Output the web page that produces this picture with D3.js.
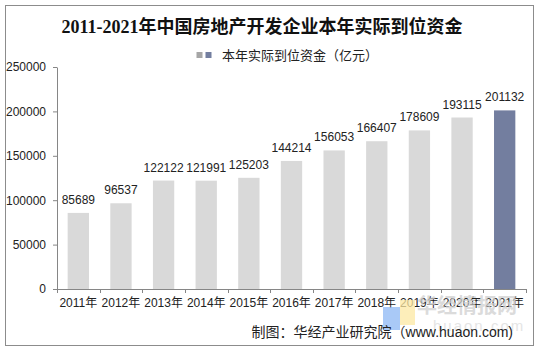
<!DOCTYPE html>
<html>
<head>
<meta charset="utf-8">
<script src="https://cdn.jsdelivr.net/npm/d3@7"></script>
<style>
  body { margin: 0; background: #fff; }
  svg { display: block; }
</style>
</head>
<body>
<svg id="chart" width="539" height="352"></svg>
<script>
// Data
const years = ["2011年", "2012年", "2013年", "2014年", "2015年", "2016年", "2017年", "2018年", "2019年", "2020年", "2021年"];
const funds = [85689, 96537, 122122, 121991, 125203, 144214, 156053, 166407, 178609, 193115, 201132];
const yTicks = [0, 50000, 100000, 150000, 200000, 250000];

const titleText = "2011-2021年中国房地产开发企业本年实际到位资金";
const legendText = "本年实际到位资金（亿元）";
const sourceText = "制图：华经产业研究院（www.huaon.com)";

// Layout
const width = 539, height = 352;
const plot = {left: 57, right: 526, top: 67, bottom: 289};
const greyBar = "#d9d9d9", blueBar = "#737e9f";
const sans = "'Liberation Sans', Arial, 'Noto Sans CJK SC', sans-serif";

const svg = d3.select("#chart");

// outer frame
svg.append("rect")
    .attr("x", 5.5).attr("y", 5.5)
    .attr("width", 528).attr("height", 340)
    .attr("fill", "#fff")
    .attr("stroke", "#8c8c8c");

// Scales
const x = d3.scaleBand().domain(years).range([plot.left, plot.right]).paddingInner(0.5).paddingOuter(0.25);
const y = d3.scaleLinear().domain([0, 250000]).range([plot.bottom, plot.top]);

// Title
svg.append("text")
    .attr("x", 262).attr("y", 33)
    .attr("text-anchor", "middle")
    .style("font-family", "'Liberation Serif', 'Noto Sans CJK SC', serif")
    .style("font-weight", "bold")
    .style("font-size", "18px")
    .attr("fill", "#111")
    .text(titleText);

// Legend
svg.append("rect").attr("x", 196.5).attr("y", 52).attr("width", 6).attr("height", 6).attr("fill", "#a6a6a6");
svg.append("rect").attr("x", 205.5).attr("y", 52).attr("width", 6).attr("height", 6).attr("fill", blueBar);
svg.append("text")
    .attr("x", 222).attr("y", 60)
    .style("font-family", sans)
    .style("font-size", "13px")
    .attr("fill", "#222")
    .text(legendText);

// Y axis
const yAxis = svg.append("g")
    .attr("transform", `translate(${plot.left},0)`)
    .call(d3.axisLeft(y).tickValues(yTicks).tickFormat(d3.format("d")).tickSize(4).tickPadding(7).tickSizeOuter(0));
yAxis.selectAll("text")
    .style("font-family", sans)
    .style("font-size", "12px")
    .attr("fill", "#222");

// X axis (ticks on category boundaries)
const xAxisG = svg.append("g");
xAxisG.append("line")
    .attr("x1", plot.left).attr("x2", plot.right)
    .attr("y1", plot.bottom + 0.5).attr("y2", plot.bottom + 0.5);
const step = x.step();
xAxisG.selectAll(".xt")
    .data(d3.range(years.length + 1))
    .enter().append("line")
    .attr("class", "xt")
    .attr("x1", i => Math.round(plot.left + i * step) + 0.5)
    .attr("x2", i => Math.round(plot.left + i * step) + 0.5)
    .attr("y1", plot.bottom).attr("y2", plot.bottom + 4);
svg.selectAll(".domain, .tick line").attr("stroke", "#868686");
xAxisG.selectAll("line").attr("stroke", "#868686");

xAxisG.selectAll(".xl")
    .data(years)
    .enter().append("text")
    .attr("class", "xl")
    .attr("x", d => x(d) + x.bandwidth() / 2)
    .attr("y", 307)
    .attr("text-anchor", "middle")
    .style("font-family", sans)
    .style("font-size", "12px")
    .attr("fill", "#222")
    .text(d => d);

// Bars
svg.selectAll(".bar")
    .data(funds)
    .enter().append("rect")
    .attr("class", "bar")
    .attr("x", (d, i) => x(years[i]))
    .attr("width", x.bandwidth())
    .attr("y", d => y(d))
    .attr("height", d => y(0) - y(d))
    .attr("fill", (d, i) => i === funds.length - 1 ? blueBar : greyBar);

// Value labels
svg.selectAll(".val")
    .data(funds)
    .enter().append("text")
    .attr("class", "val")
    .attr("x", (d, i) => x(years[i]) + x.bandwidth() / 2)
    .attr("y", d => y(d) - 9)
    .attr("text-anchor", "middle")
    .style("font-family", sans)
    .style("font-size", "12px")
    .attr("fill", "#222")
    .text(d => d);

// Watermark
const wm = svg.append("g").attr("opacity", 0.75);
wm.append("rect").attr("x", 383).attr("y", 307).attr("width", 17).attr("height", 23).attr("fill", "#8db8f5");
wm.append("rect").attr("x", 400).attr("y", 300).attr("width", 15).attr("height", 25).attr("fill", "#fde9a3");
wm.append("text")
    .attr("x", 417).attr("y", 313)
    .style("font-family", "'Noto Sans CJK SC', sans-serif")
    .style("font-weight", "bold")
    .style("font-size", "20px")
    .attr("fill", "#cfcfcf")
    .text("华经情报网");
wm.append("text")
    .attr("x", 433).attr("y", 331)
    .style("font-family", sans)
    .style("font-size", "15px")
    .style("letter-spacing", "2px")
    .attr("fill", "#dcdcdc")
    .text("huaon.com");

// Source
svg.append("text")
    .attr("x", 513).attr("y", 337)
    .attr("text-anchor", "end")
    .style("font-family", sans)
    .style("font-size", "14px")
    .attr("fill", "#222")
    .text(sourceText);
</script>
</body>
</html>
